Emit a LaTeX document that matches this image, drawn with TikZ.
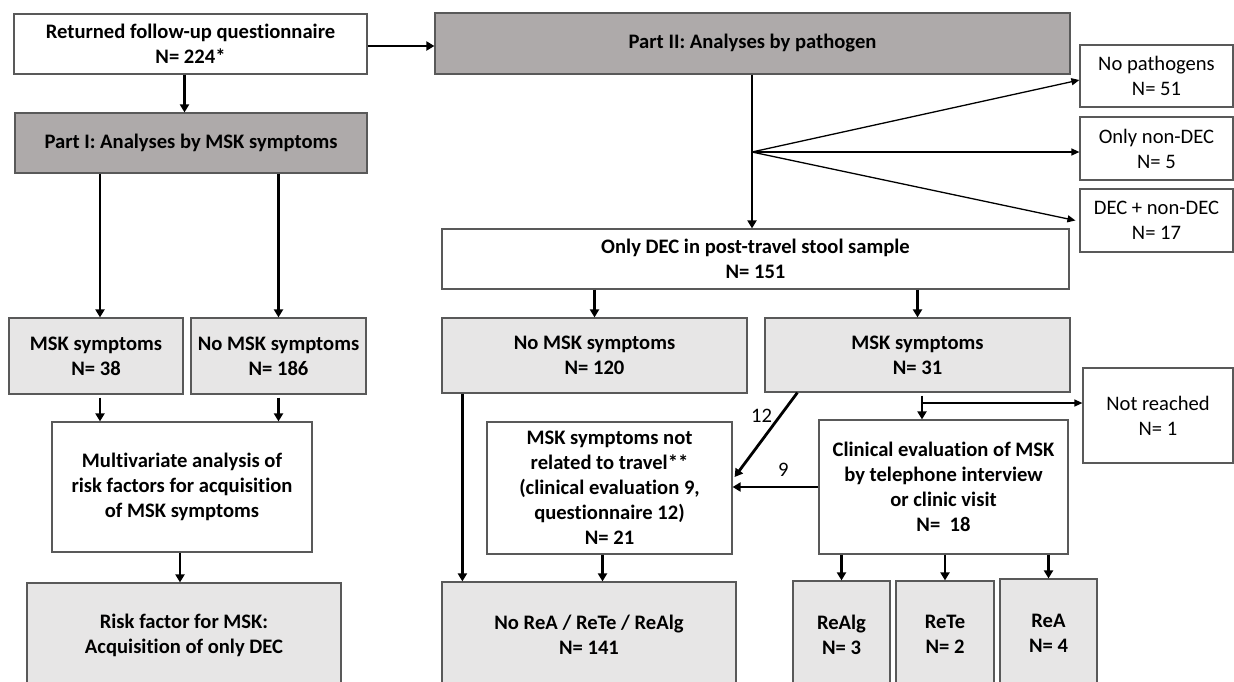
\documentclass[tikz,border=0pt]{standalone}
\usepackage{fontspec}
\setmainfont{Carlito}[Ligatures=NoCommon]
\usetikzlibrary{arrows.meta}
\usetikzlibrary{positioning}
\definecolor{partgray}{HTML}{AEAAAA}
\definecolor{lightgray}{HTML}{E7E6E6}
\definecolor{edgegray}{HTML}{595959}

\begin{document}
\begin{tikzpicture}[x=1pt, y=-1pt,
    box/.style={draw=edgegray, line width=1.2pt, rectangle, align=center, inner sep=0pt,
        font=\fontsize{20.6}{25}\selectfont\bfseries},
    wbox/.style={box, fill=white},
    lbox/.style={box, fill=lightgray},
    pbox/.style={box, fill=partgray},
    sbox/.style={box, fill=white, font=\fontsize{20.6}{25}\selectfont},
    thk/.style={line width=2.8pt, -{Triangle[length=8pt,width=9pt]}},
    thn/.style={line width=1.3pt, -{Triangle[length=8pt,width=7pt]}},
    lbl/.style={font=\fontsize{20.6}{25}\selectfont}]
    \clip (0,0) rectangle (1234,681);

    % part I
    \node[wbox, minimum width=353, minimum height=60] (ret) at (190.5,44) {Returned follow-up questionnaire\\N= 224*};
    \node[pbox, minimum width=352, minimum height=60] (p1) at (191,143) {Part I: Analyses by MSK symptoms};
    \node[lbox, minimum width=174, minimum height=76] (msk1) at (96,356) {MSK symptoms\\N= 38};
    \node[lbox, minimum width=175, minimum height=76] (nomsk1) at (278.5,356) {No MSK symptoms\\N= 186};
    \node[wbox, minimum width=260, minimum height=130] (multi) at (182,487) {Multivariate analysis of\\risk factors for acquisition\\of MSK symptoms};
    \node[lbox, minimum width=314, minimum height=105] (risk) at (184,635.5) {Risk factor for MSK:\\Acquisition of only DEC};

    % part II
    \node[pbox, minimum width=635, minimum height=61] (p2) at (752.5,43.5) {Part II: Analyses by pathogen};
    \node[sbox, minimum width=153, minimum height=62] (nopath) at (1156.5,76) {No pathogens\\N= 51};
    \node[sbox, minimum width=153, minimum height=63] (onlynon) at (1156.5,148.5) {Only non-DEC\\N= 5};
    \node[sbox, minimum width=153, minimum height=63] (decnon) at (1156.5,220.5) {DEC + non-DEC\\N= 17};
    \node[wbox, minimum width=627, minimum height=60] (onlydec) at (755.5,259) {Only DEC in post-travel stool sample\\N= 151};
    \node[lbox, minimum width=305, minimum height=75] (nomsk2) at (594.5,355.5) {No MSK symptoms\\N= 120};
    \node[lbox, minimum width=305, minimum height=74] (msk2) at (917.5,355) {MSK symptoms\\N= 31};
    \node[sbox, minimum width=150, minimum height=95] (notreach) at (1158,415.5) {Not reached\\N= 1};
    \node[wbox, minimum width=245, minimum height=132] (notrel) at (609.5,488) {MSK symptoms not\\related to travel**\\(clinical evaluation 9,\\questionnaire 12)\\N= 21};
    \node[wbox, minimum width=249, minimum height=134] (clin) at (943.5,487) {Clinical evaluation of MSK\\by telephone interview\\or clinic visit\\N=\ \ 18};
    \node[lbox, minimum width=294, minimum height=105] (norea) at (589,634.5) {No ReA / ReTe / ReAlg\\N= 141};
    \node[lbox, minimum width=97, minimum height=107] (realg) at (841.5,634.5) {ReAlg\\N= 3};
    \node[lbox, minimum width=98, minimum height=107] (rete) at (945,634.5) {ReTe\\N= 2};
    \node[lbox, minimum width=97, minimum height=109] (rea) at (1048.5,633.5) {ReA\\N= 4};

    \coordinate (br) at (752,152);
    \coordinate (nr) at (922,403);

    % connectors left
    \draw[thk] ([yshift=-2pt]ret.east) -- ([yshift=-2pt]ret.east -| p2.west);
    \draw[thk] ([xshift=-6pt]ret.south) -- ([xshift=-6pt]ret.south |- p1.north);
    \draw[thk] ([xshift=4pt]msk1.north |- p1.south) -- ([xshift=4pt]msk1.north);
    \draw[thk] (nomsk1.north |- p1.south) -- (nomsk1.north);
    \draw[thk] ([xshift=4pt,yshift=-3pt]msk1.south) -- ([xshift=4pt]msk1.south |- multi.north);
    \draw[thk] ([yshift=-3pt]nomsk1.south) -- (nomsk1.south |- multi.north);
    \draw[thk] ([xshift=-2pt]multi.south) -- ([xshift=-2pt]multi.south |- risk.north);

    % connectors right
    \draw[thk] (br |- p2.south) -- (br |- onlydec.north);
    \draw[thn] (br) -- ([yshift=-4pt]nopath.west);
    \draw[thn] (br) -- (br -| onlynon.west);
    \draw[thn] (br) -- ([xshift=-4pt]decnon.west);
    \draw[thk] (nomsk2.north |- onlydec.south) -- (nomsk2.north);
    \draw[thk] (msk2.north |- onlydec.south) -- (msk2.north);
    \draw[thk] ([xshift=21pt]nomsk2.south west) -- ([xshift=21pt]nomsk2.south west |- norea.north);
    \draw[thk] ([xshift=-7pt]notrel.south) -- ([xshift=-7pt]notrel.south |- norea.north);
    \draw[thk] ([xshift=33pt]msk2.south west) -- node[lbl, pos=0.28, left=3pt] {12} ([xshift=2pt,yshift=11pt]notrel.east);
    \draw[thk] (clin.west) -- node[lbl, pos=0.41, above=6pt] {9} (clin.west -| notrel.east);
    \draw[thk] ([yshift=-3pt]nr |- msk2.south) -- (nr |- clin.north);
    \draw[thn] (nr) -- (nr -| notreach.west);
    \draw[thk] (realg.north |- clin.south) -- (realg.north);
    \draw[thk] (rete.north |- clin.south) -- (rete.north);
    \draw[thk] (rea.north |- clin.south) -- (rea.north);
\end{tikzpicture}
\end{document}
